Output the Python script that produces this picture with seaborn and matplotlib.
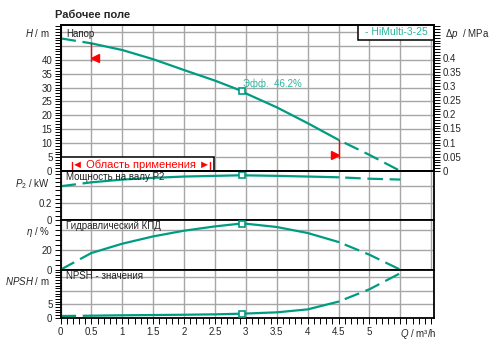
import matplotlib.pyplot as plt
import matplotlib.ticker as ticker
from matplotlib.patches import Rectangle
import numpy as np
import pandas as pd
import seaborn as sns

# Pump curves (flow Q in m3/h)
flow = [0, 0.5, 1, 1.5, 2, 2.5, 2.93, 3, 3.5, 4, 4.5, 5, 5.5]
head = [47.7, 45.9, 43.5, 40.2, 36.3, 32.5, 28.8, 27.9, 22.9, 17.2, 11.2, 5.8, 0]
power = [0.40, 0.447, 0.48, 0.50, 0.516, 0.524, 0.531, 0.530, 0.524, 0.516, 0.507, 0.49, 0.48]
eff = [0, 16.7, 26, 33.3, 39, 43.3, 46.2, 46.0, 42.7, 36.7, 27.7, 15, 0]
npsh = [0.63, 0.75, 0.9, 1.0, 1.1, 1.25, 1.5, 1.55, 2.0, 3.1, 6.0, 10.6, 16.6]

bep_flow = 2.93              # best efficiency point
app_range = [0.5, 4.5]       # solid part of the curves
app_marks = [0.19, 2.42]     # red marks in the "Область применения" box
app_box = [2.48, 5.1]        # box width (Q) and height (H)
mpa_per_m = 0.00981

df = pd.DataFrame({"Q": flow, "H": head, "P2": power, "eta": eff, "NPSH": npsh})

teal = "#009c82"
teal_text = "#2bb39e"
grid_col = "#a6a6a6"

sns.set_style("white")
plt.rcParams["font.family"] = ["Liberation Sans", "DejaVu Sans"]
plt.rcParams["mathtext.fontset"] = "custom"
plt.rcParams["mathtext.rm"] = "Liberation Sans"
plt.rcParams["mathtext.it"] = "Liberation Sans:italic"

fig = plt.figure(figsize=(4.92, 3.54), dpi=100)
W, H = 492, 354
left, right = 60.5, 434.3
rows = [(25, 171), (171, 219.8), (219.8, 269.7), (269.7, 317.7)]
axes = []
for top, bot in rows:
    axes.append(fig.add_axes([left / W, 1 - bot / H, (right - left) / W, (bot - top) / H]))
ax_h, ax_p, ax_e, ax_n = axes

def draw_curve(ax, col):
    lo, hi = app_range
    kw = dict(x="Q", y=col, ax=ax, color=teal, linewidth=1.6, estimator=None, sort=False)
    sns.lineplot(data=df[df.Q <= lo], linestyle=(0, (7, 3)), **kw)
    sns.lineplot(data=df[df.Q >= hi], linestyle=(7, (7, 3)), **kw)
    sns.lineplot(data=df[(df.Q >= lo) & (df.Q <= hi)], linestyle="-", **kw)
    val = df.loc[df.Q == bep_flow, col].iloc[0]
    ax.plot(bep_flow, val, marker="s", ms=4.5, mfc="white", mec=teal, mew=1.2, zorder=5)

limits = {"H": 52.5, "P2": 0.582, "eta": 49.9, "NPSH": 17.9}
yticks = {"H": [0, 5, 10, 15, 20, 25, 30, 35, 40, 45, 50], "P2": [0, 0.2, 0.4],
          "eta": [0, 20, 40], "NPSH": [0, 5, 10, 15]}
ylabels = {"H": ["0", "5", "10", "15", "20", "25", "30", "35", "40", "", ""],
           "P2": ["0", "0.2", ""], "eta": ["0", "20", ""], "NPSH": ["0", "5", "", ""]}
minors = {"H": 1, "P2": 0.05, "eta": 5, "NPSH": 1}
names = {"H": (r"$\mathit{H}$ / m", 49.5), "P2": (r"$\mathit{P}_2$ / kW", 0.42),
         "eta": (r"$\mathit{\eta}$ / %", 38), "NPSH": (r"$\mathit{NPSH}$ / m", 13.8)}
titles = {"H": "Напор", "P2": "Мощность на валу P2", "eta": "Гидравлический КПД",
          "NPSH": "NPSH - значения"}

for ax, col in zip(axes, ["H", "P2", "eta", "NPSH"]):
    draw_curve(ax, col)
    ax.set_xlim(0, 6.05)
    ax.set_ylim(0, limits[col])
    ax.set_xlabel("")
    ax.set_ylabel("")
    ax.xaxis.set_major_locator(ticker.MultipleLocator(0.5))
    ax.xaxis.set_minor_locator(ticker.MultipleLocator(0.1))
    ax.set_yticks(yticks[col])
    ax.set_yticklabels(ylabels[col])
    ax.yaxis.set_minor_locator(ticker.MultipleLocator(minors[col]))
    ax.tick_params(axis="y", which="both", direction="out", length=4.3, width=0.7,
                   pad=1.5, labelsize=7, left=True, color="black")
    ax.tick_params(axis="x", which="both", length=0, labelbottom=False)
    ax.grid(True, which="major", color=grid_col, linewidth=1.0, linestyle="-")
    ax.grid(False, which="minor")
    ax.set_axisbelow(True)
    for s in ax.spines.values():
        s.set_visible(True)
        s.set_color("black")
        s.set_linewidth(1.3)
    ax.text(0.015, 0.975, titles[col], transform=ax.transAxes, ha="left", va="top",
            fontsize=7, color="#222222", zorder=6)
    label, ypos = names[col]
    ax.annotate(label, (0, ypos), xycoords=ax.get_yaxis_transform(), xytext=(-7.5, 0),
                textcoords="offset points", ha="right", va="center", fontsize=7,
                annotation_clip=False)

# bottom axis on the NPSH panel
ax_n.set_xticks(np.arange(0, 5.51, 0.5))
ax_n.set_xticklabels(["0", "0.5", "1", "1.5", "2", "2.5", "3", "3.5", "4", "4.5", "5",
                      r"$\mathit{Q}$ / m³/h"])
ax_n.xaxis.set_minor_locator(ticker.MultipleLocator(0.1))
ax_n.tick_params(axis="x", which="both", direction="out", length=4, width=0.7,
                 labelbottom=True, bottom=True, labelsize=7, pad=2.5, color="black")
ax_n.get_xticklabels()[-1].set_horizontalalignment("left")
ax_n.set_xlim(0, 6.05)

# Δp axis on the right of the head panel
ax_dp = ax_h.twinx()
ax_dp.set_ylim(0, limits["H"] * mpa_per_m)
ax_dp.set_yticks(list(np.arange(0, 0.401, 0.05)))
ax_dp.set_yticklabels(["0", "0.05", "0.1", "0.15", "0.2", "0.25", "0.3", "0.35", "0.4"])
ax_dp.yaxis.set_minor_locator(ticker.MultipleLocator(0.01))
ax_dp.tick_params(axis="y", which="both", direction="out", length=4.3, width=0.7,
                  pad=1.5, labelsize=7, right=True, color="black")
ax_dp.grid(False)
ax_dp.patch.set_visible(False)
for s in ax_dp.spines.values():
    s.set_linewidth(1.3)
    s.set_color("black")
ax_dp.annotate(r"$\mathit{\Delta p}$  / MPa", (1, 0.485), xycoords=ax_dp.get_yaxis_transform(),
               xytext=(7.5, 0), textcoords="offset points", ha="left", va="center",
               fontsize=7, annotation_clip=False)

# efficiency annotation at the best efficiency point
h_bep = df.loc[df.Q == bep_flow, "H"].iloc[0]
ax_h.annotate("Эфф.  46.2%", (bep_flow, h_bep), xytext=(1, 1.5), textcoords="offset points",
              ha="left", va="bottom", fontsize=7, color=teal_text)

# operating range markers
for q, m in [(app_range[0], "<"), (app_range[1], ">")]:
    h0 = df.loc[df.Q == q, "H"].iloc[0]
    ax_h.plot([q, q], [h0, h0 - 6.5], color="red", lw=1.0, zorder=4)
    dx = 0.06 if m == "<" else -0.06
    ax_h.plot(q + dx, h0 - 5.3, marker=m, color="red", ms=5.5, zorder=4)

# "Область применения" box
ax_h.add_patch(Rectangle((0, 0), app_box[0], app_box[1], facecolor="white",
                         edgecolor="black", lw=1.1, zorder=3))
for q in app_marks:
    ax_h.plot([q, q], [0.4, 3.3], color="red", lw=1.0, zorder=4)
ax_h.text(sum(app_marks) / 2, 2.4, "◄ Область применения ►", ha="center", va="center",
          fontsize=8, color="red", zorder=4)

# series legend box
ax_h.add_patch(Rectangle((0.797, 0.899), 0.203, 0.101, transform=ax_h.transAxes,
                         facecolor="white", edgecolor="black", lw=1.1, zorder=6))
ax_h.text(0.8985, 0.95, "- HiMulti-3-25", transform=ax_h.transAxes, ha="center",
          va="center", fontsize=7.5, color=teal_text, zorder=7)

fig.text(55 / W, 1 - 15 / H, "Рабочее поле", ha="left", va="center",
         fontsize=8, fontweight="bold")

fig.savefig("out.png", dpi=100, facecolor="white")
